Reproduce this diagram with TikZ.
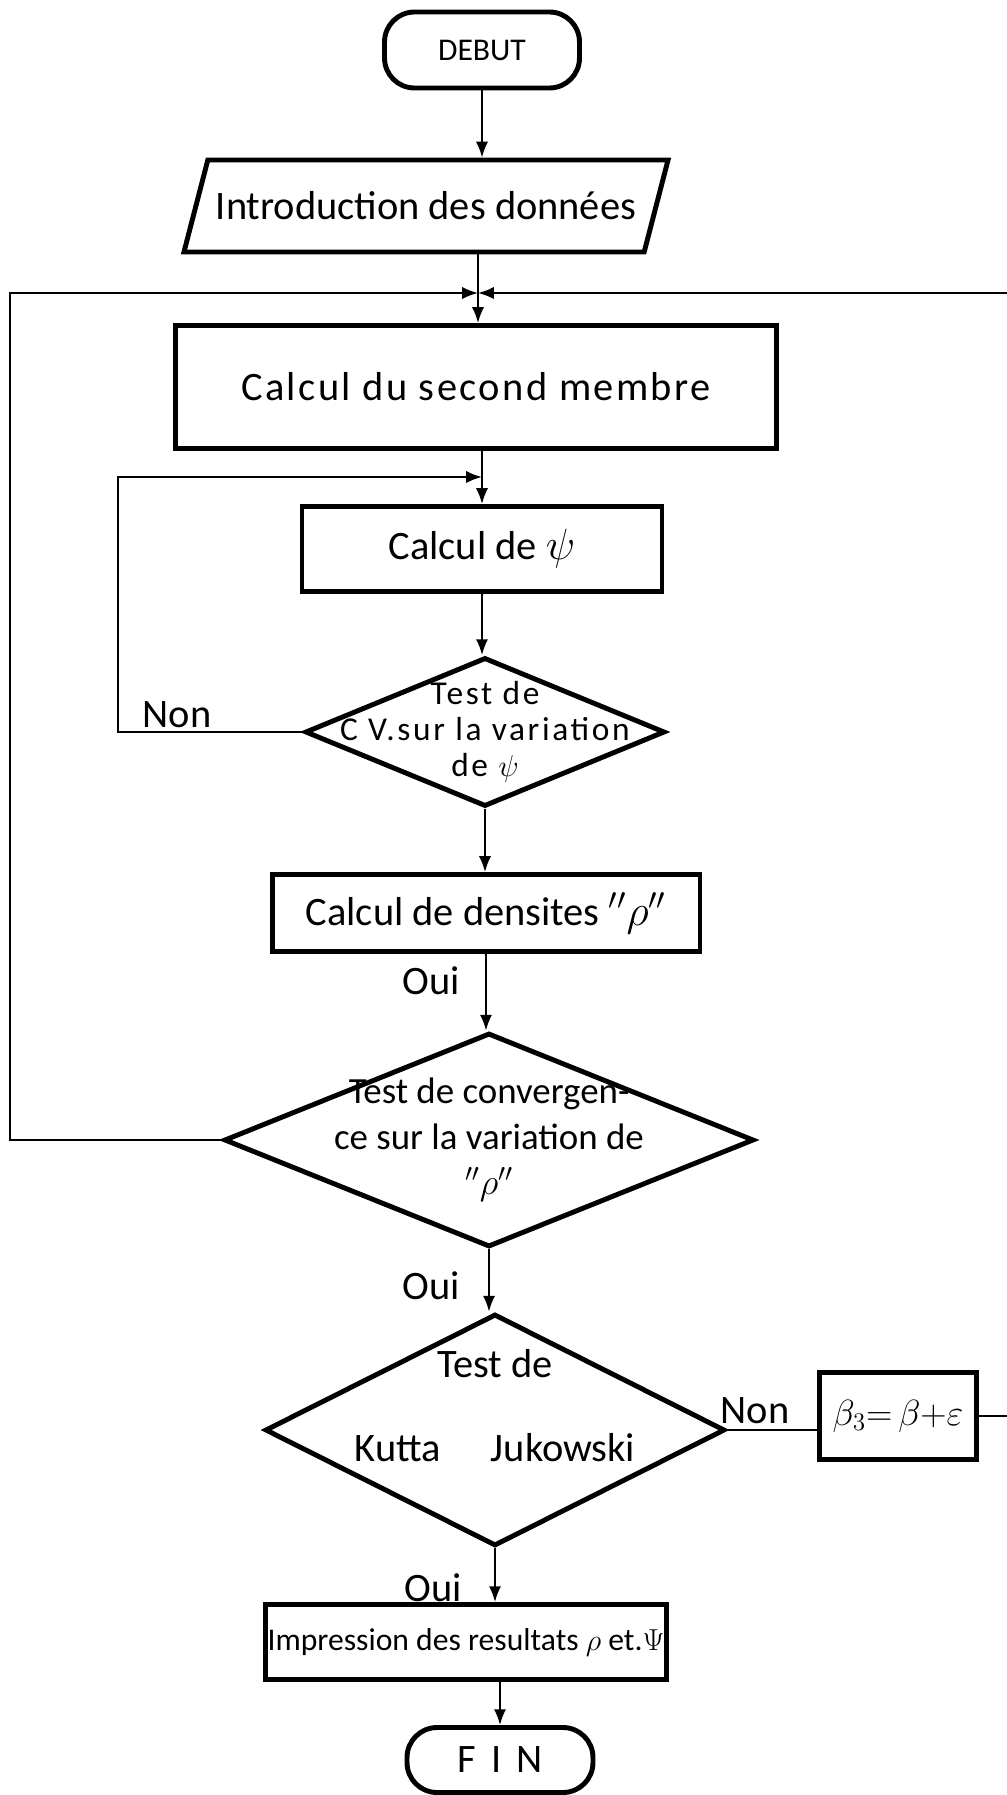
\documentclass[tikz,border=0pt]{standalone}
\usepackage{fontspec}
\setmainfont{Carlito}
\usetikzlibrary{shapes.geometric,arrows.meta}
\tikzset{
  txt/.style={font=\fontsize{23}{28}\selectfont},
  boite/.style={draw,rectangle,line width=2.8pt,inner sep=0pt,txt},
  term/.style={draw,rectangle,rounded corners=0.6cm,line width=2.8pt,inner sep=0pt,txt},
  lecture/.style={draw,trapezium,trapezium left angle=51,trapezium right angle=129,trapezium stretches=true,line width=2.8pt,inner sep=0pt,txt},
  test/.style={draw,diamond,line width=2.8pt,inner sep=-1.5cm,align=center,txt},
  lien/.style={line width=1.2pt},
  fleche/.style={lien,-{Latex[length=9pt,width=7pt]}},
  lab/.style={txt,inner sep=0pt},
}
\begin{document}
\begin{tikzpicture}[x=0.02cm,y=-0.02cm]
  \useasboundingbox (0,0) rectangle (1007,1795);
  \node[term,minimum width=3.9cm,minimum height=1.52cm,font=\fontsize{18}{22}\selectfont] (debut) at (482,50) {DEBUT};
  \node[lecture,minimum width=9.72cm,minimum height=1.84cm] (intro) at (426,206) {Introduction des données};
  \node[boite,minimum width=12.02cm,minimum height=2.46cm,font=\fontsize{23}{28}\selectfont\addfontfeature{LetterSpace=6}] (calc1) at (476,387) {Calcul du second membre};
  \node[boite,minimum width=7.2cm,minimum height=1.7cm] (calc2) at (482,549) {Calcul de $\psi$};
  \node[test,minimum width=7.2cm,minimum height=2.98cm,font=\fontsize{19}{20.5}\selectfont\addfontfeature{LetterSpace=8}] (test1) at (485,732) {Test de\\C V.sur la variation\\de $\psi$};
  \node[boite,minimum width=8.56cm,minimum height=1.54cm] (dens) at (486,913) {Calcul de densites $''\rho''$};
  \node[test,minimum width=10.6cm,minimum height=4.28cm,font=\fontsize{21}{26}\selectfont] (test2) at (489,1140) {Test de convergen-\\ce sur la variation de\\$''\rho''$};
  \node[test,minimum width=9.2cm,minimum height=4.64cm] (test3) at (495,1430) {Test de\\[0.7cm]Kutta\hspace{1cm}Jukowski\\\mbox{}};
  \node[boite,minimum width=3.14cm,minimum height=1.74cm,font=\fontsize{21}{24}\selectfont] (b3) at (898,1416) {$\beta_3{=}\,\beta{+}\varepsilon$};
  \node[boite,minimum width=8.02cm,minimum height=1.5cm,font=\fontsize{18}{22}\selectfont] (impr) at (466,1642) {Impression des resultats $\rho$ et.$\Psi$};
  \node[term,minimum width=3.72cm,minimum height=1.3cm] (fin) at (500,1760) {F\hspace{0.3cm}I\hspace{0.3cm}N};
  \node[lab] (non1) at (177,715) {Non};
  \node[lab] (oui1) at (431,981) {Oui};
  \node[lab] (oui2) at (431,1286) {Oui};
  \node[lab] (non2) at (755,1411) {Non};
  \node[lab] (oui3) at (433,1588) {Oui};
  \coordinate (j1) at (478,293);
  \coordinate (j2) at (482,477);
  \coordinate (gauche1) at (118,477);
  \coordinate (gauche2) at (10,1140);
  \coordinate (droite1) at (1007,293);
  \coordinate (droite2) at (1007,1416);
  \draw[fleche] (debut.south) -- (debut.south |- intro.north);
  \draw[fleche] (intro.south -| j1) -- (calc1.north -| j1);
  \draw[fleche] (calc1.south -| j2) -- (calc2.north);
  \draw[fleche] (calc2.south) -- (calc2.south |- test1.north);
  \draw[fleche] (test1.west) -- (gauche1 |- test1.west) -- (gauche1) -- (j2);
  \draw[fleche] (test1.south) -- (test1.south |- dens.north);
  \draw[fleche] (dens.south) -- (dens.south |- test2.north);
  \draw[fleche] (test2.west) -- (gauche2) |- (j1);
  \draw[fleche] (droite1) -- (j1);
  \draw[fleche] (test2.south) -- (test2.south |- test3.north);
  \draw[lien] (test3.east) -- (test3.east -| b3.west);
  \draw[lien] (b3.east) -- (droite2);
  \draw[fleche] (test3.south) -- (test3.south |- impr.north);
  \draw[fleche] (fin.north |- impr.south) -- (fin.north);
\end{tikzpicture}
\end{document}
